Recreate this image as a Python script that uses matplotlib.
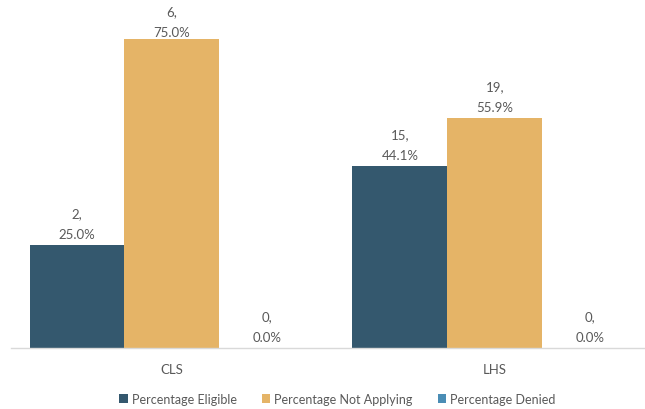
import matplotlib
matplotlib.use("Agg")
import matplotlib.pyplot as plt
from matplotlib.transforms import offset_copy
import numpy as np

categories = ["CLS", "LHS"]
series_names = ["Percentage Eligible", "Percentage Not Applying", "Percentage Denied"]
counts = [[2, 15], [6, 19], [0, 0]]
percents = [[25.0, 44.1], [75.0, 55.9], [0.0, 0.0]]
colors = ["#34586E", "#E5B467", "#4A8DB5"]

plt.rcParams['font.family'] = ['Lato', 'DejaVu Sans']
text_color = "#595959"

fig = plt.figure(figsize=(6.45, 4.10), dpi=100)
W, H = 645, 410
left, right = 10.5, 656.5
bottom_px, top_px = 349, 19.4
ax = fig.add_axes([left / W, (H - bottom_px) / H, (right - left) / W, (bottom_px - top_px) / H])

x = np.arange(len(categories))
bw = 95 / 323
offsets = [-bw, 0, bw]
labels = []
for i, name in enumerate(series_names):
    bars = ax.bar(x + offsets[i], percents[i], width=bw, color=colors[i], label=name)
    for j, b in enumerate(bars):
        t = ax.annotate(f"{counts[i][j]},\n{percents[i][j]:.1f}%",
                        (b.get_x() + b.get_width() / 2, b.get_height()),
                        xytext=(0, 3.5), textcoords="offset points",
                        ha="center", va="bottom", fontsize=9.5, color=text_color,
                        linespacing=1.9)
        labels.append(t)

ax.set_xlim(-0.5, 1.5)
ax.set_ylim(0, 80)
ax.set_xticks(x)
ax.set_xticklabels(categories, fontsize=9.5, color=text_color)
ax.tick_params(axis="x", length=0, pad=11)
ax.set_yticks([])
for s in ["top", "right", "left"]:
    ax.spines[s].set_visible(False)
ax.spines["bottom"].set_color("#D9D9D9")
ax.spines["bottom"].set_linewidth(1.0)

leg = fig.legend(loc="center", bbox_to_anchor=(337.5 / W, (H - 400) / H), ncol=3,
                 frameon=False, fontsize=9, handlelength=0.65, handleheight=0.65,
                 handletextpad=0.35, columnspacing=2.0)
for t in leg.get_texts():
    t.set_color(text_color)

# keep data labels inside the plot area (as the original chart does)
fig.canvas.draw()
renderer = fig.canvas.get_renderer()
limit_px = H - 6
for t in labels:
    bb = t.get_window_extent(renderer)
    if bb.y1 > limit_px:
        shift_pt = (bb.y1 - limit_px) * 72 / fig.dpi
        t.xyann = (t.xyann[0], t.xyann[1] - shift_pt)

fig.savefig("out.png", dpi=100)
